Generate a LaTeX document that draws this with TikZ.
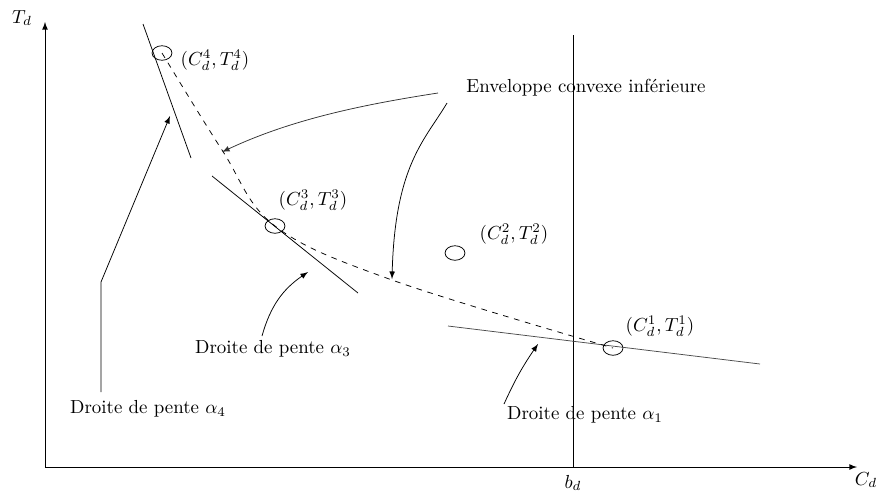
\documentclass[tikz,border=0pt]{standalone}
\usetikzlibrary{shapes.geometric,arrows}

\begin{document}
\begin{tikzpicture}[x=0.0186cm,y=-0.0186cm,
  pt/.style={draw,ellipse,inner sep=0pt,minimum width=0.37cm,minimum height=0.27cm},
  fl/.style={-latex,thin}]
\useasboundingbox (0,0) rectangle (880,491);
\coordinate (o) at (45,467);
\coordinate (ty) at (45,22);
\coordinate (cx) at (857,467);
\coordinate (bt) at (573,35);
\coordinate (bb) at (573,467);
\node (Td) at (22,18){$T_d$};
\node (Cd) at (866,480){$C_d$};
\node (bd) at (573,483){$b_d$};
\draw[-latex] (o) -- (ty);
\draw[-latex] (o) -- (cx);
\draw (bt) -- (bb);

\node[pt] (p4) at (162,53){};
\node[pt] (p3) at (275,226){};
\node[pt] (p2) at (455,253){};
\node[pt] (p1) at (613,348){};
\node (l4) at (215,60){$(C_d^4,T_d^4)$};
\node (l3) at (313,200){$(C_d^3,T_d^3)$};
\node (l2) at (514,234){$(C_d^2,T_d^2)$};
\node (l1) at (660,326){$(C_d^1,T_d^1)$};

\coordinate (t4a) at (143,24);
\coordinate (t4b) at (191,158);
\coordinate (t3a) at (212,176);
\coordinate (t3b) at (358,293);
\coordinate (t1a) at (448,326);
\coordinate (t1b) at (760,364);
\draw (t4a) -- (t4b);
\draw (t3a) -- (t3b);
\draw[black!70] (t1a) -- (t1b);
\draw[dashed] plot[smooth,tension=0.6] coordinates {(p4.center) (222,150) (p3.center) (392,280) (p1.center)};

\node (env) at (586,88){Enveloppe convexe inférieure};
\node (a4) at (148,409){Droite de pente $\alpha_4$};
\node (a3) at (273,349){Droite de pente $\alpha_3$};
\node (a1) at (585,415){Droite de pente $\alpha_1$};

\coordinate (e1) at (438,93);
\coordinate (e1t) at (222,152);
\coordinate (e2) at (447,103);
\coordinate (e2t) at (392,279);
\draw[fl,black!80] (e1) .. controls (360,105) and (290,120) .. (e1t);
\draw[fl] (e2) .. controls (425,140) and (395,165) .. (e2t);
\coordinate (s4) at (101,392);
\coordinate (k4) at (101,282);
\coordinate (h4) at (170,116);
\draw[fl] (s4) -- (k4) -- (h4);
\coordinate (s3) at (262,336);
\coordinate (h3) at (308,272);
\draw[fl] (s3) to[bend left=20] (h3);
\coordinate (s1) at (504,404);
\coordinate (h1) at (538,344);
\draw[fl] (s1) to[bend left=5] (h1);
\end{tikzpicture}
\end{document}
